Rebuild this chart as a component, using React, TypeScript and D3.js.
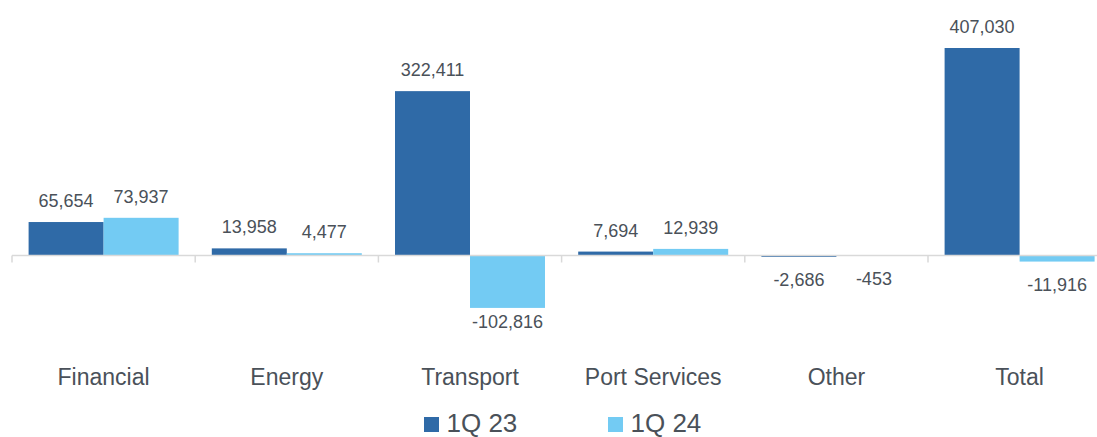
import React from 'react';
import * as d3 from 'd3';

const categories = ['Financial', 'Energy', 'Transport', 'Port Services', 'Other', 'Total'];
const seriesNames = ['1Q 23', '1Q 24'];
const values1Q23 = [65654, 13958, 322411, 7694, -2686, 407030];
const values1Q24 = [73937, 4477, -102816, 12939, -453, -11916];

const W = 1097;
const H = 437;
const colors = ['#2F6AA7', '#73CBF3'];
const textColor = '#4A5159';
const axisColor = '#D9D9D9';

const App = () => {
  const step = 183.2;
  const x = d3.scaleBand<string>()
    .domain(categories)
    .range([12, 12 + step * categories.length]);

  const xs = d3.scaleBand<string>()
    .domain(seriesNames)
    .range([16.6, step - 16.6]);

  const k = 207.5 / 407030;
  const y0 = 255.5;
  const y = d3.scaleLinear()
    .domain([-150000, 450000])
    .range([y0 + 150000 * k, y0 - 450000 * k]);

  // hyphen minus like the source, not the unicode minus
  const fmt = (v: number) => d3.format(',')(v).replace('\u2212', '-');
  const series = [values1Q23, values1Q24];

  const bars = categories.flatMap((c, i) =>
    series.map((vals, s) => ({ c, s, v: vals[i] }))
  );

  return (
    <div style={{ width: W, height: H }}>
      <svg width={W} height={H} style={{ position: 'absolute', left: 0, top: 0 }}
        fontFamily="'Liberation Sans', Arial, sans-serif">
        {bars.map((b, i) => {
          const bx = (x(b.c) ?? 0) + (xs(seriesNames[b.s]) ?? 0);
          const top = Math.min(y(b.v), y(0));
          const h = Math.abs(y(b.v) - y(0));
          return (
            <rect key={i} x={bx} y={top} width={xs.bandwidth()} height={h}
              fill={colors[b.s]} />
          );
        })}

        {/* axis line + ticks */}
        <line x1={12} x2={W} y1={y0} y2={y0} stroke={axisColor} strokeWidth={1.5} />
        {categories.map(c => (
          <line key={c} x1={x(c)} x2={x(c)} y1={y0} y2={y0 + 7} stroke={axisColor} strokeWidth={1.5} />
        ))}

        {/* value labels */}
        {bars.map((b, i) => {
          const cx = (x(b.c) ?? 0) + (xs(seriesNames[b.s]) ?? 0) + xs.bandwidth() / 2;
          const yv = y(b.v);
          let ty;
          if (b.v >= 0) ty = yv - 15;
          else ty = yv - y0 < 20 ? yv + 29 : yv + 20;
          return (
            <text key={i} x={cx} y={ty} textAnchor="middle" fontSize={18} fill={textColor}>
              {fmt(b.v)}
            </text>
          );
        })}

        {/* category labels */}
        {categories.map(c => (
          <text key={c} x={(x(c) ?? 0) + x.bandwidth() / 2} y={385} textAnchor="middle"
            fontSize={23} fill={textColor}>
            {c}
          </text>
        ))}

        {/* legend */}
        {seriesNames.map((s, i) => {
          const lx = i === 0 ? 424 : 608;
          return (
            <g key={s}>
              <rect x={lx} y={417} width={15} height={15} fill={colors[i]} />
              <text x={lx + 22.5} y={431.5} fontSize={26} fill={textColor}>{s}</text>
            </g>
          );
        })}
      </svg>
    </div>
  );
};

export default App;
